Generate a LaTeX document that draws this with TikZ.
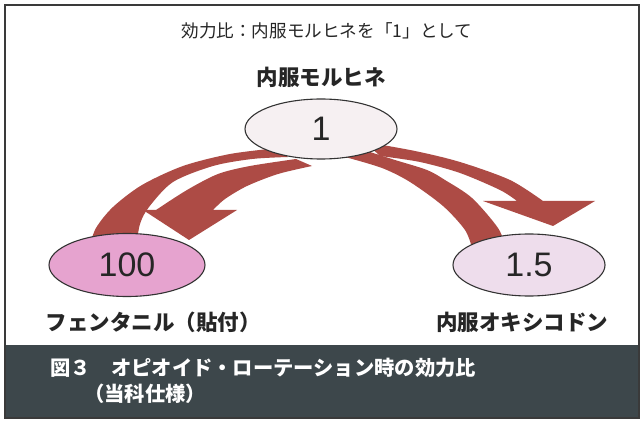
\documentclass[tikz,border=0pt]{standalone}
\usepackage{fontspec}
\setmainfont{Liberation Sans}
\newfontfamily\jp{Noto Sans CJK JP}
\usetikzlibrary{shapes.geometric}
\definecolor{arrowred}{HTML}{AD4B45}
\definecolor{bandcol}{HTML}{3D474B}
\definecolor{framecol}{HTML}{3A3A3A}
\definecolor{topfill}{HTML}{F6F0F2}
\definecolor{leftfill}{HTML}{E6A3CF}
\definecolor{rightfill}{HTML}{EEDDEC}
\definecolor{edgecol}{HTML}{333333}
\tikzset{
  ell/.style={ellipse, draw=edgecol, line width=1.1pt, inner sep=0pt,
    font=\fontsize{34pt}{36pt}\selectfont, text=black!85},
  jpbold/.style={font=\jp\bfseries\fontsize{21.5pt}{24pt}\selectfont, text=black!85, inner sep=0pt},
  bandtxt/.style={font=\jp\bfseries\fontsize{20.3pt}{22pt}\selectfont, text=white, inner sep=0pt, anchor=base west},
  band/.style={fill=arrowred}
}
\begin{document}
\begin{tikzpicture}[x=1pt,y=-1pt]
\useasboundingbox (0,0) rectangle (644,427);
\fill[white] (0,0) rectangle (644,427);
\fill[bandcol] (5,345) rectangle (639,418);
\draw[framecol, line width=1.3pt] (5,5) rectangle (639,418);

% left arrow: tail band (to 100)
\fill[band] plot[smooth] coordinates {(278,148) (230,154) (183,166) (142,185) (113,207) (96,228) (89,248)}
  -- plot[smooth] coordinates {(136,248) (140,224) (149,207) (173,182) (213,166) (252,159) (288,157)} -- cycle;
% left arrow: head band
\fill[band] plot[smooth] coordinates {(296,159) (250,166) (218,174) (187,190) (156,210)}
  -- (143,210) -- (189,240) -- (237,210) -- (213,210)
  -- plot[smooth] coordinates {(213,210) (225,199) (247,186) (278,174) (312,166)} -- cycle;

% right arrow: head band
\fill[band] plot[smooth] coordinates {(365,142) (415,151) (460,162) (510,180) (543,201)}
  -- (595,201) -- (553,226) -- (483,201) -- (517,201)
  -- plot[smooth] coordinates {(517,201) (500,190) (460,173) (420,162) (380,156)} -- cycle;
% right arrow: tail band (to 1.5)
\fill[band] plot[smooth] coordinates {(345,157) (382,168) (410,182) (443,206) (465,230) (472,248)}
  -- plot[smooth] coordinates {(506,248) (498,228) (472,198) (445,180) (427,170) (395,160) (370,152)} -- cycle;

\node[ell, fill=topfill, minimum width=152pt, minimum height=60pt] (mor) at (321,129) {1};
\node[ell, fill=leftfill, minimum width=156pt, minimum height=63pt] (fen) at (127,265) {100};
\node[ell, fill=rightfill, minimum width=152pt, minimum height=62pt] (oxy) at (529,265) {1.5};

\node[font=\jp\fontsize{17.6pt}{20pt}\selectfont, text=black!85, inner sep=0pt] (title) at (327,31) {効力比：内服モルヒネを「1」として};
\node[jpbold] (lmor) at (321,77) {内服モルヒネ};
\node[jpbold] (lfen) at (153,322) {フェンタニル（貼付）};
\node[jpbold] (loxy) at (522,322) {内服オキシコドン};

\node[bandtxt] (cap1) at (50,375) {図３　オピオイド・ローテーション時の効力比};
\node[bandtxt] (cap2) at (84,401) {（当科仕様）};
\end{tikzpicture}
\end{document}
